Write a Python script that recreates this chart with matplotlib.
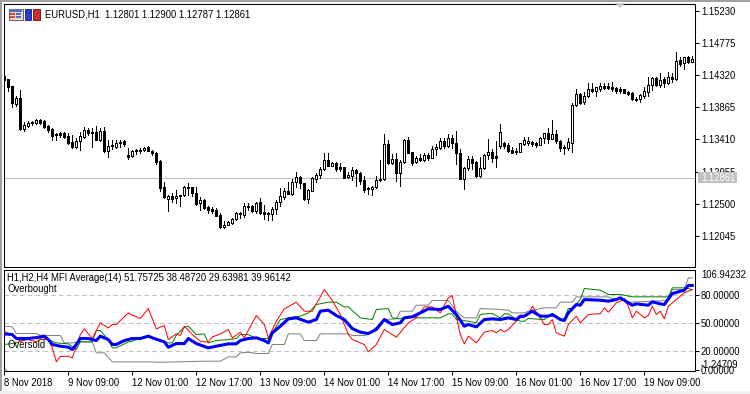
import numpy as np
import matplotlib
matplotlib.use("Agg")
import matplotlib.pyplot as plt
from matplotlib.patches import Rectangle, Polygon

plt.rcParams['font.family'] = ['Liberation Sans', 'DejaVu Sans']

W, H = 750, 394

# EURUSD H1 candles
opens = [1.14306,1.14264,1.14165,1.13911,1.13995,1.13557,1.13600,1.13642,1.13642,1.13684,
1.13670,1.13600,1.13557,1.13487,1.13501,1.13501,1.13458,1.13374,1.13303,1.13388,
1.13444,1.13543,1.13515,1.13515,1.13402,1.13529,1.13246,1.13331,1.13303,1.13359,
1.13388,1.13190,1.13176,1.13246,1.13246,1.13260,1.13303,1.13246,1.13218,1.13105,
1.12738,1.12568,1.12611,1.12582,1.12625,1.12625,1.12738,1.12738,1.12653,1.12512,
1.12554,1.12455,1.12427,1.12413,1.12342,1.12172,1.12201,1.12229,1.12285,1.12370,
1.12342,1.12455,1.12469,1.12399,1.12526,1.12384,1.12370,1.12356,1.12427,1.12526,
1.12596,1.12681,1.12639,1.12808,1.12879,1.12794,1.12568,1.12681,1.12851,1.12907,
1.12992,1.13119,1.13034,1.13077,1.13020,1.13020,1.12879,1.12893,1.12978,1.12936,
1.12837,1.12709,1.12709,1.12738,1.12851,1.12851,1.13345,1.13077,1.13133,1.12936,
1.13091,1.13402,1.13232,1.13091,1.13147,1.13119,1.13190,1.13147,1.13275,1.13289,
1.13388,1.13317,1.13430,1.13359,1.13218,1.12851,1.13006,1.13133,1.13091,1.12893,
1.13006,1.13190,1.13232,1.13176,1.13317,1.13359,1.13331,1.13260,1.13246,1.13232,
1.13345,1.13359,1.13374,1.13359,1.13331,1.13430,1.13501,1.13416,1.13487,1.13388,
1.13303,1.13289,1.13359,1.13896,1.14052,1.13939,1.14024,1.14122,1.14094,1.14122,
1.14165,1.14165,1.14151,1.14137,1.14122,1.14122,1.14080,1.14066,1.13981,1.13981,
1.14024,1.14080,1.14179,1.14278,1.14179,1.14264,1.14207,1.14292,1.14264,1.14532,
1.14490,1.14575,1.14504]
highs = [1.14349,1.14264,1.14165,1.14024,1.14108,1.13656,1.13670,1.13670,1.13699,1.13699,
1.13684,1.13614,1.13571,1.13501,1.13515,1.13515,1.13501,1.13473,1.13430,1.13515,
1.13586,1.13571,1.13571,1.13600,1.13571,1.13586,1.13402,1.13402,1.13402,1.13402,
1.13402,1.13289,1.13260,1.13275,1.13289,1.13303,1.13317,1.13260,1.13232,1.13119,
1.12808,1.12625,1.12653,1.12695,1.12625,1.12752,1.12794,1.12738,1.12738,1.12596,
1.12568,1.12469,1.12455,1.12441,1.12370,1.12257,1.12257,1.12300,1.12384,1.12384,
1.12512,1.12512,1.12483,1.12526,1.12582,1.12483,1.12384,1.12455,1.12554,1.12724,
1.12724,1.12808,1.12851,1.12950,1.12893,1.12794,1.12709,1.12879,1.12936,1.13020,
1.13218,1.13218,1.13091,1.13091,1.13077,1.13020,1.12950,1.13020,1.12992,1.12950,
1.12893,1.12738,1.12752,1.12893,1.13119,1.13487,1.13402,1.13204,1.13218,1.13119,
1.13416,1.13444,1.13232,1.13176,1.13204,1.13218,1.13218,1.13317,1.13345,1.13430,
1.13430,1.13487,1.13473,1.13529,1.13275,1.13020,1.13176,1.13176,1.13105,1.13162,
1.13204,1.13416,1.13275,1.13388,1.13628,1.13374,1.13359,1.13303,1.13289,1.13359,
1.13444,1.13444,1.13388,1.13374,1.13444,1.13501,1.13571,1.13684,1.13543,1.13402,
1.13331,1.13430,1.13925,1.14122,1.14066,1.14080,1.14207,1.14207,1.14151,1.14207,
1.14207,1.14207,1.14221,1.14151,1.14151,1.14122,1.14094,1.14080,1.14009,1.14052,
1.14151,1.14292,1.14292,1.14292,1.14349,1.14292,1.14363,1.14349,1.14645,1.14575,
1.14575,1.14589,1.14589]
lows = [1.14235,1.14094,1.13868,1.13882,1.13543,1.13529,1.13586,1.13614,1.13628,1.13628,
1.13571,1.13515,1.13402,1.13402,1.13444,1.13430,1.13345,1.13289,1.13289,1.13260,
1.13430,1.13473,1.13303,1.13402,1.13388,1.13232,1.13162,1.13275,1.13289,1.13303,
1.13317,1.13133,1.13162,1.13204,1.13218,1.13246,1.13246,1.13190,1.13063,1.12681,
1.12582,1.12399,1.12526,1.12512,1.12469,1.12611,1.12625,1.12611,1.12483,1.12413,
1.12427,1.12370,1.12370,1.12328,1.12158,1.12158,1.12201,1.12215,1.12271,1.12300,
1.12314,1.12413,1.12384,1.12370,1.12356,1.12285,1.12271,1.12271,1.12356,1.12469,
1.12568,1.12639,1.12625,1.12738,1.12724,1.12554,1.12512,1.12681,1.12808,1.12865,
1.12978,1.13034,1.13034,1.12964,1.12964,1.12865,1.12865,1.12837,1.12752,1.12780,
1.12667,1.12639,1.12625,1.12724,1.12823,1.12837,1.13063,1.13063,1.12823,1.12752,
1.13077,1.13218,1.13049,1.13077,1.13105,1.13105,1.13119,1.13147,1.13190,1.13275,
1.13289,1.13303,1.13289,1.13063,1.12851,1.12709,1.12978,1.12992,1.12879,1.12879,
1.12992,1.13133,1.13091,1.13020,1.13289,1.13289,1.13232,1.13218,1.13204,1.13232,
1.13331,1.13331,1.13317,1.13303,1.13331,1.13359,1.13359,1.13416,1.13359,1.13246,
1.13204,1.13260,1.13232,1.13882,1.13911,1.13911,1.14009,1.14080,1.14024,1.14094,
1.14122,1.14122,1.14094,1.14066,1.14066,1.14066,1.14038,1.13967,1.13953,1.13939,
1.13995,1.14024,1.14108,1.14165,1.14151,1.14151,1.14193,1.14221,1.14250,1.14447,
1.14405,1.14490,1.14504]
closes = [1.14250,1.14151,1.13925,1.13995,1.13557,1.13614,1.13642,1.13656,1.13684,1.13642,
1.13586,1.13543,1.13458,1.13473,1.13473,1.13444,1.13359,1.13303,1.13388,1.13458,
1.13543,1.13501,1.13501,1.13402,1.13529,1.13246,1.13317,1.13317,1.13359,1.13374,
1.13345,1.13162,1.13246,1.13260,1.13260,1.13289,1.13246,1.13218,1.13091,1.12724,
1.12596,1.12611,1.12568,1.12611,1.12611,1.12738,1.12724,1.12653,1.12497,1.12554,
1.12441,1.12413,1.12399,1.12328,1.12172,1.12201,1.12243,1.12285,1.12370,1.12356,
1.12469,1.12469,1.12399,1.12512,1.12370,1.12356,1.12356,1.12427,1.12526,1.12611,
1.12681,1.12639,1.12808,1.12879,1.12794,1.12568,1.12695,1.12865,1.12907,1.12992,
1.13119,1.13034,1.13077,1.12992,1.12992,1.12865,1.12907,1.12978,1.12936,1.12823,
1.12695,1.12724,1.12738,1.12837,1.12837,1.13345,1.13077,1.13133,1.12936,1.13091,
1.13402,1.13218,1.13077,1.13147,1.13119,1.13190,1.13147,1.13275,1.13303,1.13388,
1.13317,1.13430,1.13359,1.13218,1.12851,1.13006,1.13133,1.13077,1.12893,1.13006,
1.13190,1.13232,1.13147,1.13147,1.13515,1.13317,1.13246,1.13218,1.13232,1.13359,
1.13402,1.13388,1.13345,1.13331,1.13430,1.13501,1.13416,1.13487,1.13388,1.13289,
1.13289,1.13374,1.13896,1.14052,1.13925,1.14024,1.14122,1.14094,1.14151,1.14165,
1.14137,1.14137,1.14122,1.14094,1.14094,1.14066,1.14052,1.13981,1.13967,1.14038,
1.14094,1.14179,1.14278,1.14179,1.14250,1.14207,1.14292,1.14264,1.14518,1.14476,
1.14575,1.14504,1.14546]
last_price = 1.12861

# MFI lines, vertices only (bar number, value)
red_bars = [0,2,4,6,8,9,11,12,13,14,16,17,19,20,22,24,26,27,28,31,32,34,36,38,40,41,43,44,45,47,49,51,52,54,56,57,59,60,61,
63,65,66,68,70,73,75,77,80,82,84,86,87,90,91,93,95,98,101,103,105,107,109,111,112,113,114,115,116,118,120,122,123,
124,125,126,128,129,131,132,134,135,136,137,138,140,141,143,144,146,148,149,150,151,153,155,156,157,158,160,161,162,163,164,165,166,168,170,172]
red_vals = [41.2,36.6,30.5,32.3,29.8,32.3,32.3,23.4,8.5,14.2,14.5,12.8,37.6,43.7,33.4,50.1,44.7,48.3,48.3,60.7,58.2,54.7,65.3,43.7,47.2,32.3,38.3,36.6,46.5,37.6,30.5,29.5,35.1,38.3,43.0,34.1,40.1,34.1,42.2,
57.9,48.3,34.1,51.8,65.0,72.1,62.5,62.5,85.6,73.9,59.0,37.6,32.3,27.0,19.2,27.0,43.0,34.8,50.1,55.4,67.1,67.1,60.7,76.7,79.2,57.2,37.6,27.7,35.9,28.7,40.1,41.9,39.4,
43.0,40.5,43.0,51.8,55.4,59.0,67.8,55.4,48.3,48.3,53.6,39.4,35.9,48.3,57.2,50.1,59.0,59.7,59.7,66.1,61.4,71.4,74.9,67.8,55.4,62.5,55.4,57.9,67.8,59.0,62.5,54.3,67.8,74.9,82.1,85.6]

green_bars = [0,3,6,11,13,16,18,19,22,23,24,26,27,28,31,32,34,36,38,41,42,43,45,46,48,50,51,53,56,58,59,
61,63,66,67,69,72,74,76,78,81,83,85,86,89,92,93,96,97,99,101,103,109,111,112,113,116,118,119,121,122,
124,125,126,128,129,130,131,135,136,138,139,140,141,142,144,145,149,151,154,157,166,167,170,172]
green_vals = [27.0,28.7,34.1,32.3,28.7,27.7,21.6,29.8,29.8,41.9,41.9,32.3,23.4,23.4,29.8,30.5,34.1,35.9,32.3,28.7,28.7,36.9,45.4,46.5,37.6,38.3,28.7,31.2,32.3,33.4,37.6,
37.6,33.4,33.4,39.4,53.6,56.1,57.2,60.7,69.6,72.1,72.1,67.1,67.1,55.4,53.6,64.3,65.3,55.4,54.3,57.2,55.4,55.4,59.7,59.7,53.6,51.8,50.1,59.0,60.0,60.0,
55.4,59.7,59.7,53.6,51.8,51.8,54.7,53.6,57.2,57.2,53.6,54.3,65.3,65.3,74.9,86.7,84.9,80.3,80.3,77.8,77.8,87.4,87.4,85.6]

gray_bars = [0,2,3,8,9,14,15,17,19,22,23,25,27,36,39,50,54,56,58,59,
61,63,66,67,70,71,74,75,78,79,86,87,90,91,95,98,99,102,103,106,107,111,113,115,118,119,124,
126,127,130,131,133,135,138,139,142,143,151,152,155,156,166,167,170,171,172]
gray_vals = [46.5,45.8,38.7,38.7,36.6,36.6,28.7,28.7,29.8,29.8,18.1,18.1,8.5,8.5,8.1,9.2,9.2,13.8,13.8,18.1,
18.8,17.4,17.4,27.0,27.0,38.3,38.3,31.2,31.2,38.3,38.3,36.6,36.6,37.6,53.6,54.3,62.5,62.5,68.9,68.9,73.9,73.9,62.5,55.4,55.4,65.3,64.3,
63.6,60.7,60.7,62.5,64.3,66.1,66.1,72.1,72.1,77.8,77.8,76.0,76.0,72.1,73.9,85.6,85.6,98.0,98.0]

blue_bars = [0,2,3,6,8,10,11,12,14,16,17,18,19,21,23,24,26,27,28,30,32,34,36,37,40,41,43,45,46,48,51,53,56,58,59,
61,63,65,66,67,69,71,73,76,78,79,81,83,85,87,89,91,93,95,97,99,100,102,104,106,109,111,113,115,116,118,120,122,
124,126,128,129,130,132,134,136,137,139,140,141,143,144,145,149,151,153,154,157,158,161,162,164,165,167,170,171,172]
blue_vals = [38.3,37.6,33.4,33.4,34.4,35.9,32.3,27.0,25.2,24.1,21.6,27.0,33.4,33.4,31.2,35.9,32.3,27.0,27.0,31.2,33.4,33.4,35.9,34.1,29.8,24.1,28.0,28.0,33.4,28.0,23.4,25.2,27.7,27.7,31.2,
33.4,34.1,31.2,28.7,39.4,46.5,54.3,55.4,50.8,53.6,62.5,63.6,57.9,53.6,44.0,40.1,38.7,43.0,53.6,48.3,50.1,55.4,56.5,60.7,65.0,64.3,67.8,59.0,46.5,48.3,45.8,53.6,54.3,
53.6,55.4,53.6,57.2,57.2,62.5,57.2,57.2,59.0,53.6,52.6,60.7,69.6,68.9,74.9,74.2,73.2,74.9,76.7,68.9,70.3,68.9,72.5,70.3,69.6,81.3,84.9,89.9,89.9]

levels = [20, 50, 80]
mfi_top = 106.94232
mfi_bottom = -1.24709

price_ticks = [1.15230, 1.14775, 1.14320, 1.13865, 1.13410, 1.12955, 1.12500, 1.12045]
time_bars = [0, 16, 32, 48, 64, 80, 96, 112, 128, 144, 160]
time_labels = ['8 Nov 2018', '9 Nov 09:00', '12 Nov 01:00', '12 Nov 17:00', '13 Nov 09:00', '14 Nov 01:00',
               '14 Nov 17:00', '15 Nov 09:00', '16 Nov 01:00', '16 Nov 17:00', '19 Nov 09:00']

FS = 6.85
THIN = 0.55
LINE = 0.72


def axes_px(x0, y0, x1, y1):
    return fig.add_axes([x0 / W, 1 - y1 / H, (x1 - x0) / W, (y1 - y0) / H])


def rect_px(x, y, w, h, color, edge='none', z=5):
    fig.add_artist(Rectangle((x / W, 1 - (y + h) / H), w / W, h / H, transform=fig.transFigure,
                             facecolor=color, edgecolor=edge, linewidth=0.7, zorder=z))


def text_px(x, y, s, **kw):
    fig.text(x / W, 1 - y / H, s, fontsize=FS, va='center', **kw)


fig = plt.figure(figsize=(W / 100, H / 100), dpi=100, facecolor='white')

xlim = (-0.075, 172.675)
x = np.arange(len(opens))
o = np.array(opens)
c = np.array(closes)

# price panel
ax = axes_px(4, 4, 695, 267)
ax.set_xlim(*xlim)
ax.set_ylim(1.11607, 1.15323)
ax.axhline(last_price, color='#c0c0c0', lw=0.75, zorder=1)
ax.vlines(x, lows, highs, color='black', lw=THIN, antialiased=False, zorder=2)
up = c > o
body_bottom = np.minimum(o, c)
body_h = np.maximum(np.abs(c - o), 0.00002)
ax.bar(x[up], body_h[up], bottom=body_bottom[up], width=0.5, facecolor='white', edgecolor='black',
       linewidth=THIN, antialiased=False, zorder=3)
ax.bar(x[~up], body_h[~up], bottom=body_bottom[~up], width=0.5, facecolor='black', edgecolor='black',
       linewidth=THIN, antialiased=False, zorder=3)
ax.set_xticks([])
ax.yaxis.tick_right()
ax.set_yticks(price_ticks)
ax.set_yticklabels(['%.5f' % p for p in price_ticks], fontsize=FS)
ax.tick_params(axis='y', length=3, width=0.75, pad=1.2)

# last price tag
rect_px(698, 172, 39, 11, '#c0c0c0')
text_px(701, 177.7, '%.5f' % last_price, zorder=6, color='white')

# MFI panel
ax2 = axes_px(4, 269.5, 695, 371)
ax2.set_xlim(*xlim)
ax2.set_ylim(mfi_bottom, mfi_top)
for lv in levels:
    ax2.axhline(lv, color='#c0c0c0', lw=0.8, dashes=(4, 3), zorder=1)
ax2.plot(gray_bars, gray_vals, color='#808080', lw=LINE, zorder=2)
ax2.plot(green_bars, green_vals, color='#008000', lw=LINE, zorder=3)
ax2.plot(red_bars, red_vals, color='#ff0000', lw=LINE, zorder=4)
ax2.plot(blue_bars, blue_vals, color='#0000ff', lw=2.2, zorder=5)
ax2.yaxis.tick_right()
ax2.set_yticks([0] + levels)
ax2.set_yticklabels(['0.00000', '20.00000', '50.00000', '80.00000'], fontsize=FS)
ax2.tick_params(axis='y', length=3, width=0.75, pad=1.2)
ax2.set_xticks(time_bars)
ax2.set_xticklabels(time_labels, fontsize=FS, ha='left')
ax2.tick_params(axis='x', length=3, width=0.75, pad=2)
# small grey corner mark
ax2.add_patch(Polygon([(0, 0), (0, 0.05), (0.006, 0)], transform=ax2.transAxes, facecolor='#c0c0c0', edgecolor='none'))

for a in (ax, ax2):
    for s in a.spines.values():
        s.set_linewidth(0.75)
        s.set_color('black')

text_px(701, 275, '%.5f' % mfi_top)
text_px(701, 365, '%.5f' % mfi_bottom)
text_px(7, 278, 'H1,H2,H4 MFI Average(14) 51.75725 38.48720 29.63981 39.96142')
text_px(7, 288.5, 'Overbought')
text_px(7, 345.5, 'Oversold')
text_px(45, 14.5, 'EURUSD,H1  1.12801 1.12900 1.12787 1.12861')

# chart header icons
rect_px(8.5, 8.5, 14, 11.5, '#f4d8d0', edge='#606060')
rect_px(9.5, 9.5, 12, 2.5, '#5070c0')
rect_px(10, 13, 5, 1.5, '#d05040')
rect_px(16, 13, 5, 1.5, '#5070c0')
rect_px(10, 16, 5, 1.5, '#d05040')
rect_px(16, 16, 5, 1.5, '#5070c0')
rect_px(25, 9, 6.5, 11, '#2040d0', edge='#203080')
rect_px(33, 9, 6.5, 11, '#c83030', edge='#802020')

# window edges and scroll marker
rect_px(0, 0, 2, H, '#a0a0a0', z=1)
rect_px(0, 0, W, 2, '#a0a0a0', z=1)
rect_px(0, 391, W, 3, '#f0f0f0', z=1)
fig.add_artist(Polygon([(615 / W, 1 - 3 / H), (625 / W, 1 - 3 / H), (620 / W, 1 - 8 / H)], transform=fig.transFigure,
                       facecolor='#c8c8c8', edgecolor='none'))

fig.savefig('out.png', dpi=100)
